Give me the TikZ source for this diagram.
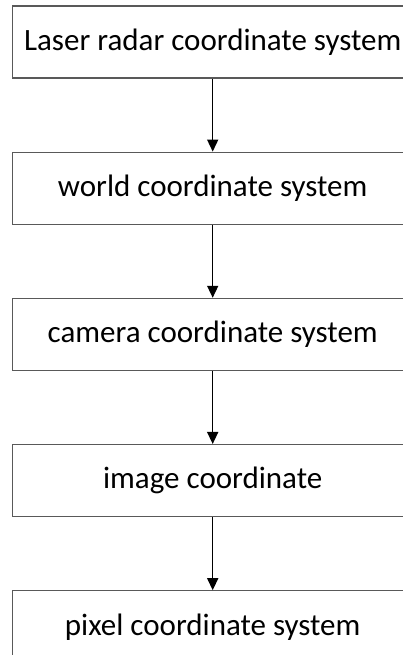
\documentclass[tikz,border=0pt]{standalone}
\usepackage{fontspec}
\setmainfont{Carlito}
\usetikzlibrary{arrows.meta}
\usetikzlibrary{positioning}

\begin{document}
\begin{tikzpicture}[x=1pt,y=1pt, node distance=73pt]
\tikzset{sysbox/.style={draw=black!65, line width=1.2pt, minimum width=400pt, minimum height=72pt, inner sep=0pt, font=\fontsize{31}{36}\selectfont}}
\tikzset{flow/.style={->, >={Triangle[width=11pt, length=12pt]}, line width=1.5pt}}
\useasboundingbox (0,0) rectangle (403,655);
\clip (0,0) rectangle (403,655);

\node (L) at (212.7,613) [sysbox] {Laser radar coordinate system};
\node (W) [sysbox, below=of L] {world coordinate system};
\node (C) [sysbox, below=of W] {camera coordinate system};
\node (I) [sysbox, below=of C] {image coordinate};
\node (P) [sysbox, below=of I] {pixel coordinate system};

\draw [flow] (L) -- (W);
\draw [flow] (W) -- (C);
\draw [flow] (C) -- (I);
\draw [flow] (I) -- (P);

\end{tikzpicture}
\end{document}
